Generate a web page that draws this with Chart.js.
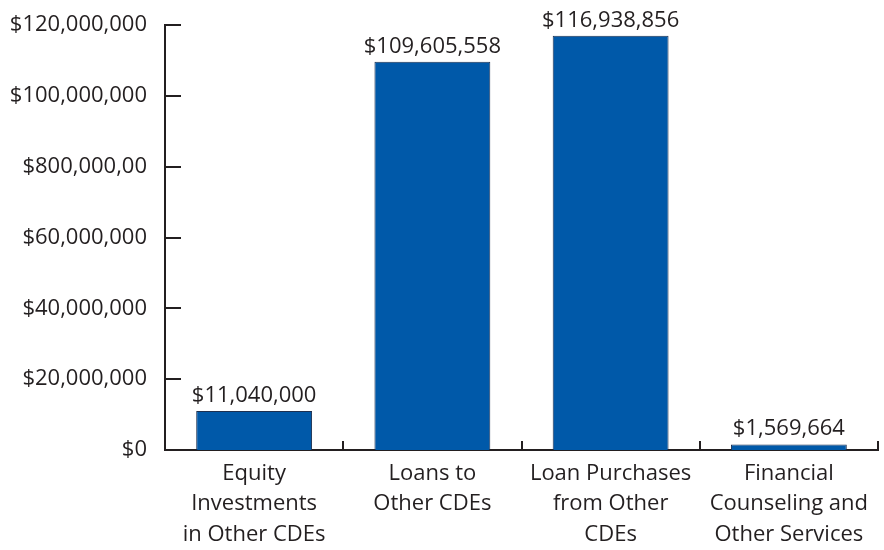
<!DOCTYPE html>
<html>
<head>
<meta charset="utf-8">
<script src="https://cdn.jsdelivr.net/npm/chart.js@4"></script>
<style>
    html, body { margin: 0; padding: 0; background: #fff; }
    #wrap { width: 884px; height: 550px; }
</style>
</head>
<body>
<div id="wrap"><canvas id="chart"></canvas></div>
<script>
const categories = [
    ['Equity', 'Investments', 'in Other CDEs'],
    ['Loans to', 'Other CDEs'],
    ['Loan Purchases', 'from Other', 'CDEs'],
    ['Financial', 'Counseling and', 'Other Services']
];
const amounts = [11040000, 109605558, 116938856, 1569664];
const yTickLabels = ['$0', '$20,000,000', '$40,000,000', '$60,000,000', '$800,000,00', '$100,000,000', '$120,000,000'];

const textColor = '#231f20';
const fontFamily = '"Open Sans", sans-serif';

// short tick marks drawn inward from both axes
const innerTicks = {
    id: 'innerTicks',
    afterDraw(chart) {
        const { ctx, chartArea, scales } = chart;
        ctx.save();
        ctx.strokeStyle = textColor;
        ctx.lineWidth = 2;
        ctx.beginPath();
        scales.y.ticks.forEach((t) => {
            const y = Math.round(scales.y.getPixelForValue(t.value));
            ctx.moveTo(chartArea.left, y);
            ctx.lineTo(chartArea.left + 16, y);
        });
        for (let i = 1; i <= categories.length; i++) {
            const x = Math.round(scales.x.getPixelForValue(i - 0.5));
            ctx.moveTo(x, chartArea.bottom);
            ctx.lineTo(x, chartArea.bottom - 9);
        }
        ctx.stroke();
        ctx.restore();
    }
};

// dollar amount above each bar
const barValues = {
    id: 'barValues',
    afterDatasetsDraw(chart) {
        const { ctx } = chart;
        const meta = chart.getDatasetMeta(0);
        ctx.save();
        ctx.fillStyle = textColor;
        ctx.font = '22px ' + fontFamily;
        ctx.textAlign = 'center';
        ctx.textBaseline = 'alphabetic';
        meta.data.forEach((bar, i) => {
            ctx.fillText('$' + amounts[i].toLocaleString('en-US'), bar.x, bar.y - 9);
        });
        ctx.restore();
    }
};

const config = {
    type: 'bar',
    data: {
        labels: categories,
        datasets: [{
            data: amounts,
            backgroundColor: '#0059a9',
            borderColor: '#1d3050',
            borderWidth: 1,
            categoryPercentage: 1,
            barPercentage: 0.65
        }]
    },
    options: {
        responsive: true,
        maintainAspectRatio: false,
        animation: false,
        layout: { padding: { top: 25, right: 6, left: 0, bottom: 0 } },
        plugins: {
            legend: { display: false },
            tooltip: { enabled: false }
        },
        scales: {
            x: {
                grid: { display: false },
                border: { display: true, color: textColor, width: 2 },
                ticks: {
                    color: textColor,
                    padding: 0,
                    maxRotation: 0,
                    autoSkip: false,
                    font: { family: fontFamily, size: 22, lineHeight: 1.4 }
                },
                afterFit(scale) { scale.height = 100; }
            },
            y: {
                min: 0,
                max: 120000000,
                grid: { display: false },
                border: { display: true, color: textColor, width: 2 },
                ticks: {
                    stepSize: 20000000,
                    color: textColor,
                    padding: 10,
                    font: { family: fontFamily, size: 22 },
                    callback: (value, index) => yTickLabels[index]
                },
                afterFit(scale) { scale.width = 165; }
            }
        }
    },
    plugins: [innerTicks, barValues]
};

const ctx = document.getElementById('chart').getContext('2d');
const chart = new Chart(ctx, config);
</script>
</body>
</html>
